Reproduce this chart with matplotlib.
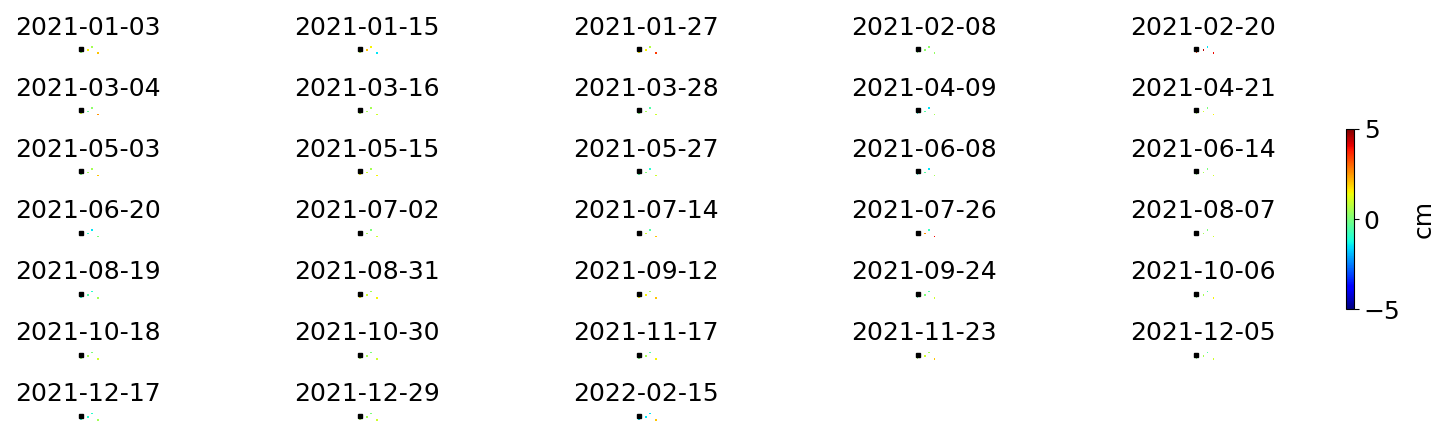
import numpy as np
import matplotlib
matplotlib.use("Agg")
import matplotlib.pyplot as plt

# acquisition dates, one panel each
dates = [
    "2021-01-03", "2021-01-15", "2021-01-27", "2021-02-08", "2021-02-20",
    "2021-03-04", "2021-03-16", "2021-03-28", "2021-04-09", "2021-04-21",
    "2021-05-03", "2021-05-15", "2021-05-27", "2021-06-08", "2021-06-14",
    "2021-06-20", "2021-07-02", "2021-07-14", "2021-07-26", "2021-08-07",
    "2021-08-19", "2021-08-31", "2021-09-12", "2021-09-24", "2021-10-06",
    "2021-10-18", "2021-10-30", "2021-11-17", "2021-11-23", "2021-12-05",
    "2021-12-17", "2021-12-29", "2022-02-15",
]

# pixel positions (col, row) of the valid points and the reference point
pt_col = [4.2, 11.3, 15.3, 21.3]
pt_row = [9.3, 7.3, 4.0, 10.3]
ref_col, ref_row = 4.2, 6.3

# displacement (cm) of each point for each date
disp = [
    [0.2, 1.5, 0.5, 2.0],
    [0.7, 2.0, 1.5, -1.5],
    [1.5, 1.5, 0.7, 3.5],
    [0.0, 0.2, 0.2, 0.3],
    [3.5, 4.5, -1.5, 4.0],
    [1.0, -0.3, 0.2, 2.5],
    [0.5, 0.5, 0.5, 1.0],
    [0.0, 0.5, -0.5, 1.0],
    [-1.0, -0.5, -1.5, 0.5],
    [0.5, 1.0, 0.0, 1.5],
    [0.0, 0.5, 0.5, 2.0],
    [1.5, 1.0, 0.5, 1.5],
    [-0.5, 0.0, -1.0, 1.0],
    [-1.0, -0.5, -1.5, 0.5],
    [0.0, 0.5, 0.0, 1.0],
    [-2.0, -1.0, -1.5, 0.0],
    [0.5, 0.5, 0.0, 1.0],
    [0.0, 1.0, -0.5, 2.0],
    [0.0, 2.5, -0.8, 4.0],
    [0.5, 0.5, 0.0, 1.0],
    [-1.0, -0.5, -1.0, 0.5],
    [1.5, 1.0, 0.5, 1.5],
    [1.5, 1.5, 0.5, 2.0],
    [-0.5, 0.0, -0.5, 1.0],
    [0.0, 0.5, -0.5, 1.5],
    [0.2, 0.5, 0.0, 1.0],
    [0.5, 0.5, 0.0, 1.0],
    [0.0, 0.5, -0.5, 1.5],
    [0.5, 1.0, 0.5, 2.0],
    [0.0, 0.5, -0.5, 1.0],
    [-1.0, -1.0, -1.0, 0.5],
    [0.5, 0.5, 0.0, 1.0],
    [-1.5, -1.5, -1.5, 2.0],
]

VMIN, VMAX = -5, 5
W, H = 1452, 436
NCOL = 5
# panel grid in figure pixels
X0, DX = 77, 278.8
Y0, DY = 43, 61.1
AW, AH = 22, 13

fig = plt.figure(figsize=(W / 100, H / 100), dpi=100)

for i, d in enumerate(dates):
    r, c = divmod(i, NCOL)
    left = X0 + c * DX
    top = Y0 + r * DY
    ax = fig.add_axes([left / W, 1 - (top + AH) / H, AW / W, AH / H])
    sc = ax.scatter(pt_col, pt_row, c=disp[i], cmap="jet", vmin=VMIN, vmax=VMAX,
                    s=1.5, marker="s", linewidths=0)
    ax.plot(ref_col, ref_row, "ks", ms=3)
    ax.set_xlim(0, AW)
    ax.set_ylim(AH, 0)
    ax.set_title(d, fontsize=18)
    ax.axis("off")

cax = fig.add_axes([1346 / W, 1 - 309 / H, 8 / W, 180 / H])
cb = fig.colorbar(sc, cax=cax, ticks=[-5, 0, 5])
cb.ax.tick_params(labelsize=18)
cb.set_label("cm", fontsize=18, labelpad=8)

fig.savefig("out.png", dpi=100)
